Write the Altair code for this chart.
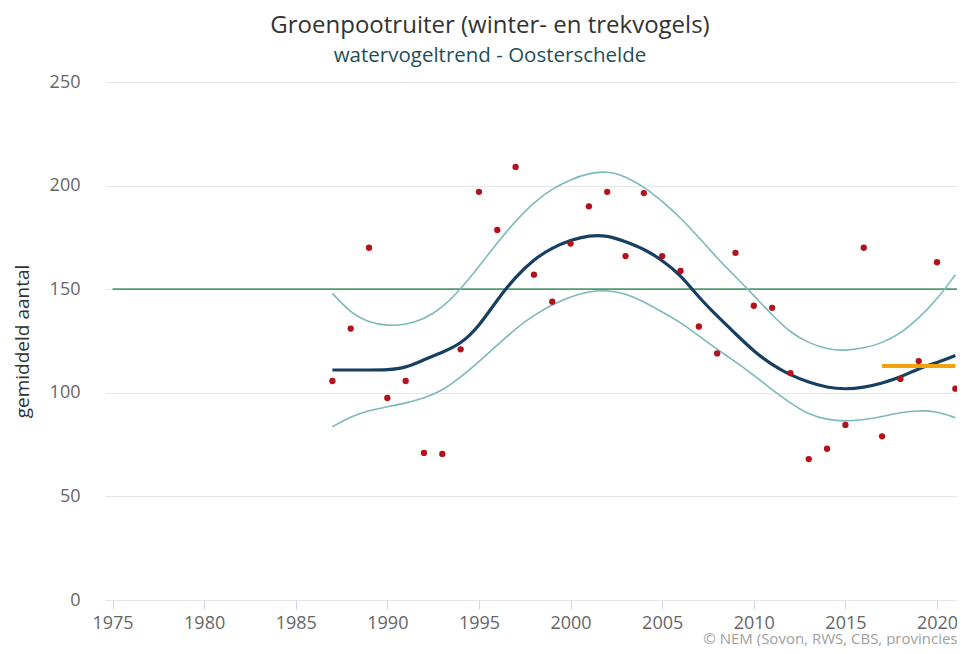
import altair as alt
import pandas as pd

# ---- data ----
years = list(range(1987, 2022))
counts = [105.7, 131, 170, 97.5, 105.7, 71, 70.5, 121, 197, 178.6,
          209, 157, 144, 172, 190, 197, 166, 196.4, 166, 158.8,
          132, 119, 167.5, 142, 141, 109.5, 68, 73, 84.5, 170,
          79, 106.7, 115.3, 163, 102]
trend = [111, 111, 111, 111, 112, 116, 119.5, 123.5, 132, 145,
         156, 164.5, 170, 173.7, 176, 176, 173, 169.5, 164, 157,
         146, 137, 128.5, 120, 113.5, 108.5, 105, 102.5, 101.7, 102.5,
         104.6, 107.5, 111.8, 114.5, 118]
upper = [148, 138.5, 134, 132.3, 132.8, 135.5, 141, 150, 161, 172.5,
         183, 192, 198.5, 203, 206, 207, 204.5, 199.5, 192.5, 184.5,
         175, 165, 156, 147, 137.5, 129, 124, 121, 120.3, 121.5,
         124, 128.5, 136, 145, 157]
lower = [83.6, 88.5, 91.5, 93.3, 95, 97.5, 101, 107.5, 115, 123,
         131, 137.5, 142.5, 146.5, 149, 149.5, 148, 144, 139, 134,
         127.5, 121, 115, 108.5, 101.5, 95, 89.5, 87, 86.2, 87,
         88.5, 90.5, 91.5, 91, 88]

ref_years = [1975, 2021.1]
ref_level = [150, 150]
recent_years = [2017, 2021]
recent_level = [112.9, 112.9]

x_ticks = list(range(1975, 2021, 5))
y_ticks = [0, 50, 100, 150, 200, 250]

title_text = "Groenpootruiter (winter- en trekvogels)"
subtitle_text = "watervogeltrend - Oosterschelde"
y_title = "gemiddeld aantal"
credit = "© NEM (Sovon, RWS, CBS, provincies"

# ---- chart ----
W, H = 852, 518
FONT = "Open Sans"

df = pd.DataFrame({"jaar": years, "aantal": counts, "trend": trend,
                   "boven": upper, "onder": lower})
ref_df = pd.DataFrame({"jaar": ref_years, "niveau": ref_level})
recent_df = pd.DataFrame({"jaar": recent_years, "niveau": recent_level})

xs = alt.Scale(domain=[1974.59, 2021.09], nice=False, zero=False)
ys = alt.Scale(domain=[0, 250], nice=False, zero=True)

x_axis = alt.Axis(values=x_ticks, format="d", grid=False,
                  labelFont=FONT, labelFontSize=18, labelColor="#666666",
                  labelPadding=5, tickColor="#ccd6eb", tickSize=9,
                  domain=True, domainColor="#e6e6e6", domainWidth=1,
                  title=credit, titleFont=FONT, titleFontSize=15,
                  titleFontWeight="normal", titleColor="#a0a0a0",
                  titleAlign="right", titleAnchor="end",
                  titleX=W, titleY=43, titleBaseline="alphabetic")
y_axis = alt.Axis(values=y_ticks, grid=True, gridColor="#e6e6e6",
                  domain=False, ticks=False,
                  labelFont=FONT, labelFontSize=18, labelColor="#666666",
                  labelPadding=25,
                  title=y_title, titleFont=FONT, titleFontSize=19,
                  titleFontWeight="normal", titleColor="#333333",
                  titlePadding=17)


def X():
    return alt.X("jaar:Q", scale=xs, axis=x_axis)


def Y(field):
    return alt.Y(f"{field}:Q", scale=ys, axis=y_axis)


base = alt.Chart(df)

ref_line = alt.Chart(ref_df).mark_line(color="#4f9a72", strokeWidth=1.8).encode(
    x=X(), y=Y("niveau"))
upper_line = base.mark_line(color="#7db9bb", strokeWidth=1.6,
                            interpolate="basis").encode(x=X(), y=Y("boven"))
lower_line = base.mark_line(color="#7db9bb", strokeWidth=1.6,
                            interpolate="basis").encode(x=X(), y=Y("onder"))
trend_line = base.mark_line(color="#173f62", strokeWidth=3.2,
                            interpolate="basis").encode(x=X(), y=Y("trend"))
recent_line = alt.Chart(recent_df).mark_line(color="#f2a20c", strokeWidth=4).encode(
    x=X(), y=Y("niveau"))
points = base.mark_circle(color="#b3121c", opacity=1, size=40).encode(
    x=X(), y=Y("aantal"))

chart = alt.layer(ref_line, upper_line, lower_line, trend_line,
                  recent_line, points).properties(
    width=W, height=H,
    background="white",
    autosize=alt.AutoSizeParams(type="none"),
    padding={"left": 97, "top": 74, "right": 0, "bottom": 46},
    title=alt.Title(text=title_text, subtitle=subtitle_text,
                    anchor="middle", frame="group", dx=-41,
                    font=FONT, fontSize=24, fontWeight="normal",
                    color="#333333",
                    subtitleFont=FONT, subtitleFontSize=20.5,
                    subtitleColor="#1f4f55", subtitlePadding=8,
                    offset=7),
).configure(
    view=alt.ViewConfig(stroke="transparent", strokeWidth=0),
    style={"cell": {"stroke": "transparent", "strokeWidth": 0}},
    axisY=alt.AxisConfig(domain=False, domainColor="transparent"),
    axisX=alt.AxisConfig(grid=False, gridColor="transparent"),
)

chart.save("out.html", embed_options={"renderer": "svg", "actions": False})
